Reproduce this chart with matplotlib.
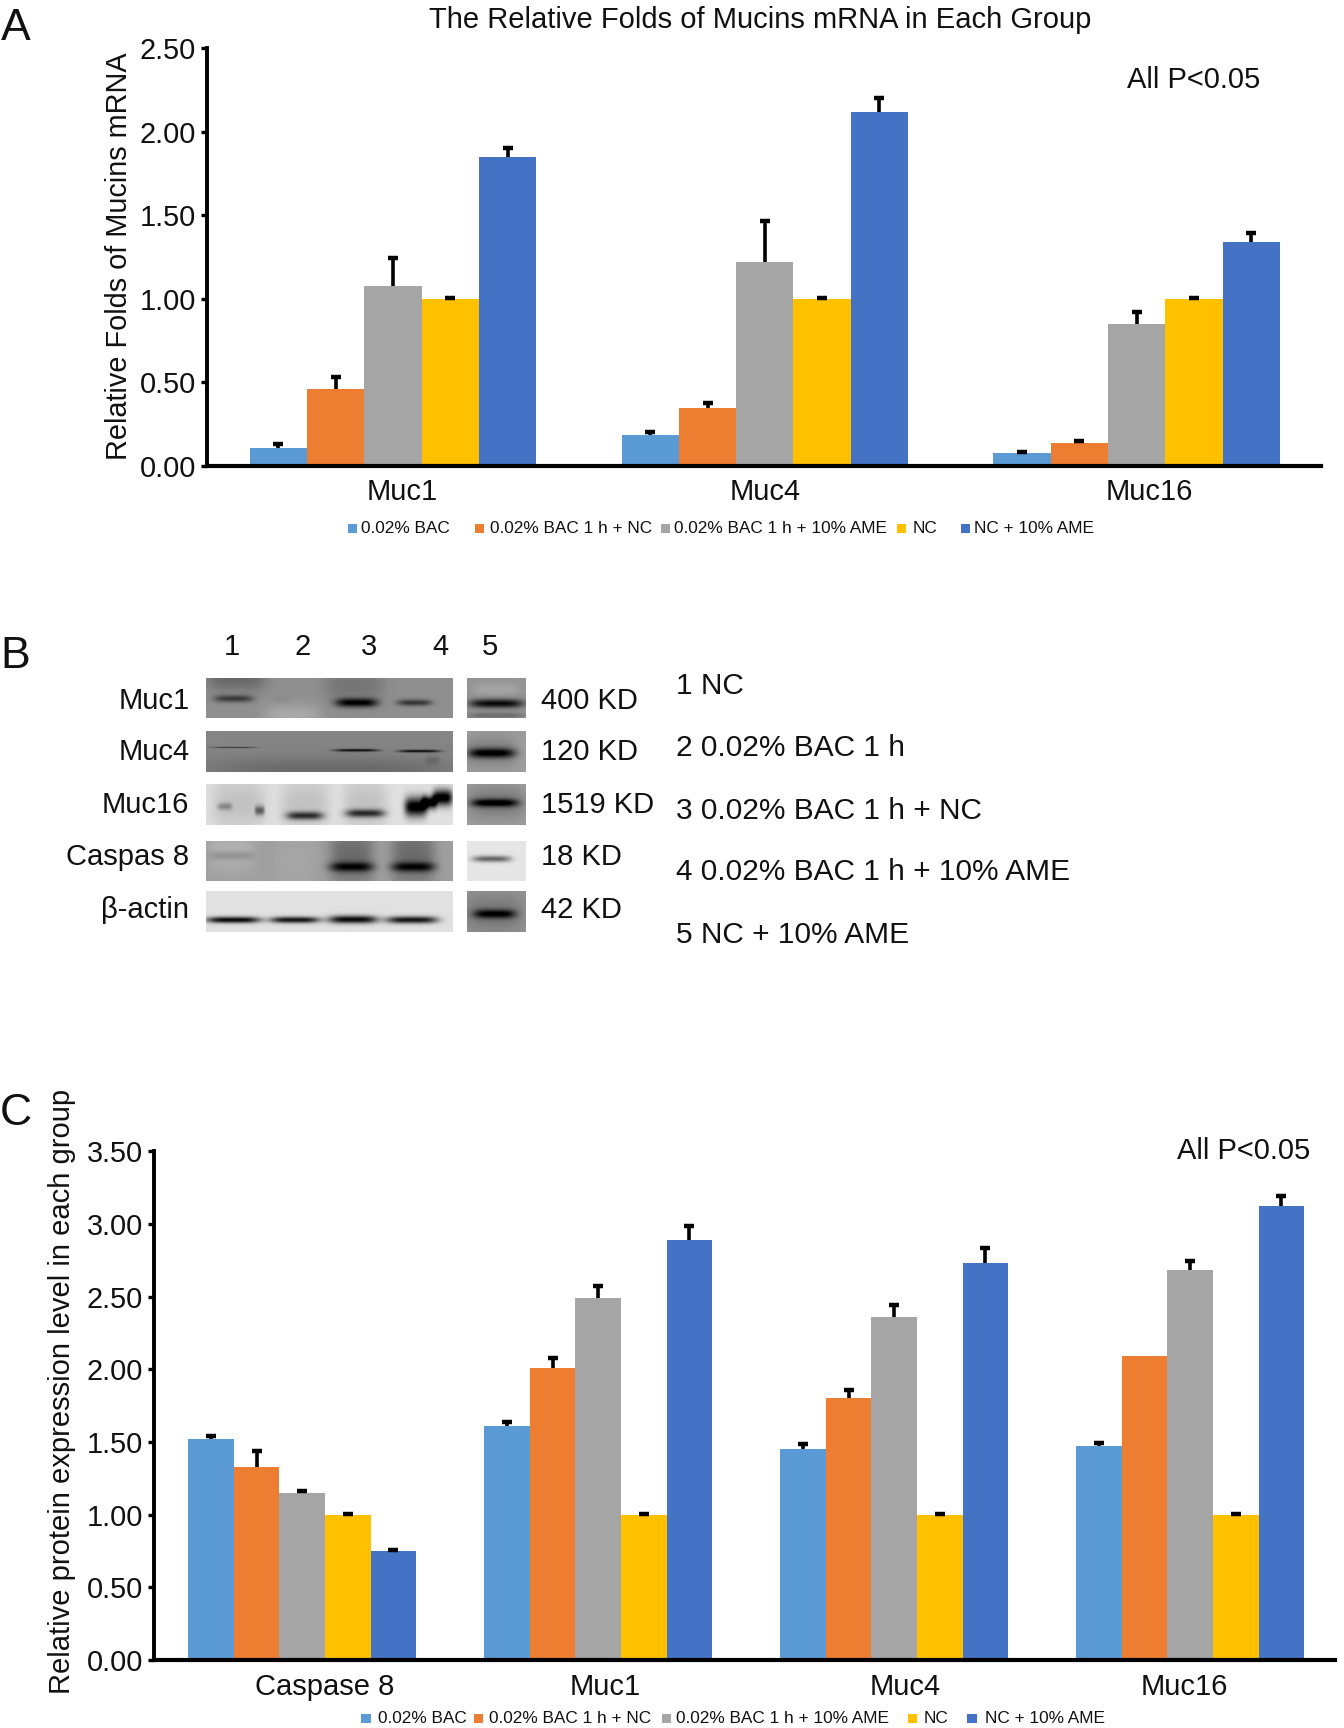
import numpy as np
import matplotlib
matplotlib.use("Agg")
import matplotlib.pyplot as plt
from matplotlib.patches import Rectangle

plt.rcParams['font.family'] = ['Liberation Sans', 'DejaVu Sans']

W, H = 1344, 1728
S = W / 1220  # positions below were read from the 1220 wide view

series = ["0.02% BAC", "0.02% BAC 1 h + NC", "0.02% BAC 1 h + 10% AME", "NC", "NC + 10% AME"]
colors = ["#5B9BD5", "#ED7D31", "#A5A5A5", "#FFC000", "#4472C4"]

groups_a = ["Muc1", "Muc4", "Muc16"]
vals_a = [[0.105, 0.185, 0.08],
          [0.46, 0.35, 0.14],
          [1.08, 1.22, 0.85],
          [1.00, 1.00, 1.00],
          [1.85, 2.12, 1.34]]
tops_a = [[0.13, 0.205, 0.085],
          [0.535, 0.38, 0.15],
          [1.245, 1.465, 0.92],
          [1.005, 1.005, 1.005],
          [1.905, 2.205, 1.395]]
ticks_a = [0.0, 0.5, 1.0, 1.5, 2.0, 2.5]

groups_c = ["Caspase 8", "Muc1", "Muc4", "Muc16"]
vals_c = [[1.52, 1.61, 1.45, 1.47],
          [1.33, 2.01, 1.80, 2.09],
          [1.15, 2.49, 2.36, 2.68],
          [1.00, 1.00, 1.00, 1.00],
          [0.75, 2.89, 2.73, 3.12]]
tops_c = [[1.545, 1.64, 1.485, 1.495],
          [1.435, 2.075, 1.855, 2.09],
          [1.16, 2.575, 2.445, 2.745],
          [1.005, 1.005, 1.005, 1.005],
          [0.755, 2.985, 2.835, 3.195]]
ticks_c = [0.0, 0.5, 1.0, 1.5, 2.0, 2.5, 3.0, 3.5]

blot_rows = ["Muc1", "Muc4", "Muc16", "Caspas 8", "β-actin"]
blot_sizes = ["400 KD", "120 KD", "1519 KD", "18 KD", "42 KD"]
blot_lanes = ["1", "2", "3", "4", "5"]
lane_key = ["1 NC", "2 0.02% BAC 1 h", "3 0.02% BAC 1 h + NC",
            "4 0.02% BAC 1 h + 10% AME", "5 NC + 10% AME"]
# grey level of the membrane behind each row, left block and lane 5 block
blot_bg = [0.56, 0.52, 0.88, 0.62, 0.88]
lane5_bg = [0.58, 0.62, 0.62, 0.90, 0.58]
# bands per row: centre x, centre y, half width, half height, darkness (fractions of block)
blot_bands = [
    [(0.12, 0.05, 0.12, 0.3, 0.15), (0.35, 0.95, 0.12, 0.3, -0.1), (0.60, 0.2, 0.12, 0.4, 0.1),
     (0.11, 0.53, 0.08, 0.09, 0.32), (0.30, 0.56, 0.04, 0.08, 0.03), (0.61, 0.63, 0.085, 0.11, 0.55), (0.845, 0.63, 0.07, 0.08, 0.35)],
    [(0.5, 0.95, 0.5, 0.3, 0.1), (0.11, 0.40, 0.09, 0.02, 0.25), (0.61, 0.47, 0.09, 0.035, 0.45), (0.865, 0.49, 0.085, 0.035, 0.45),
     (0.92, 0.72, 0.03, 0.1, 0.08)],
    [(0.13, 0.5, 0.11, 0.7, 0.12), (0.40, 0.5, 0.10, 0.7, 0.12), (0.645, 0.5, 0.09, 0.7, 0.12),
     (0.075, 0.55, 0.03, 0.09, 0.25), (0.217, 0.65, 0.02, 0.12, 0.45), (0.40, 0.78, 0.075, 0.10, 0.62), (0.645, 0.72, 0.08, 0.10, 0.62),
     (0.85, 0.56, 0.045, 0.24, 0.95), (0.96, 0.33, 0.04, 0.2, 0.95), (0.905, 0.45, 0.03, 0.16, 0.9)],
    [(0.1, 0.3, 0.1, 0.5, -0.08), (0.36, 0.5, 0.09, 0.7, -0.03), (0.59, 0.4, 0.09, 0.8, 0.2), (0.84, 0.4, 0.09, 0.8, 0.2),
     (0.10, 0.38, 0.09, 0.11, 0.12), (0.59, 0.66, 0.09, 0.12, 0.45), (0.84, 0.66, 0.09, 0.12, 0.45)],
    [(0.11, 0.71, 0.11, 0.08, 0.85), (0.36, 0.71, 0.10, 0.08, 0.8), (0.595, 0.70, 0.10, 0.10, 0.85), (0.835, 0.71, 0.105, 0.09, 0.8)],
]
lane5_bands = [
    [(0.5, 0.65, 0.46, 0.11, 0.55), (0.5, 0.3, 0.4, 0.15, -0.07), (0.5, 0.95, 0.5, 0.08, 0.15)],
    [(0.42, 0.54, 0.40, 0.12, 0.55), (0.4, 0.5, 0.45, 0.4, 0.12)],
    [(0.47, 0.46, 0.40, 0.10, 0.55), (0.5, 0.45, 0.5, 0.4, 0.15)],
    [(0.42, 0.46, 0.33, 0.08, 0.5)],
    [(0.47, 0.56, 0.36, 0.11, 0.5), (0.45, 0.55, 0.5, 0.45, 0.12)],
]


def blot_image(bg, bands, w, h):
    xx, yy = np.meshgrid(np.linspace(0, 1, w), np.linspace(0, 1, h))
    img = np.full((h, w), bg, dtype=float)
    for cx, cy, hw, hh, dark in bands:
        img -= dark * np.exp(-(np.abs(xx - cx) / hw) ** 4 - (np.abs(yy - cy) / hh) ** 2)
    return np.clip(img, 0, 1)


def add_axes_px(x0, y0, x1, y1):
    # x0, y0 top left in the 1220 wide view
    return fig.add_axes([x0 * S / W, 1 - y1 * S / H, (x1 - x0) * S / W, (y1 - y0) * S / H])


def label(x, y, s, size=21, ha="left", va="center", **kw):
    fig.text(x * S / W, 1 - y * S / H, s, fontsize=size, ha=ha, va=va, color="#111111", **kw)


def bar_panel(box, groups, vals, tops, ticks, ymax, spacing):
    ax = add_axes_px(*box)
    x = np.arange(len(groups))
    bw = 0.77 / 5
    for i in range(5):
        offs = x + (i - 2) * bw
        ax.bar(offs, vals[i], bw, color=colors[i], linewidth=0)
        err = np.array(tops[i]) - np.array(vals[i])
        keep = err > 0
        _, caps, _ = ax.errorbar(offs[keep], np.array(vals[i])[keep], yerr=[np.zeros(keep.sum()), err[keep]],
                                 fmt="none", ecolor="black", elinewidth=2.6, capsize=3.8, capthick=3.2)
        caps[0].set_visible(False)  # only the upper cap shows
    ax.set_xlim(-0.5, -0.5 + (box[2] - box[0]) / spacing)
    ax.set_ylim(0, ymax)
    ax.set_xticks([])
    ax.set_yticks(ticks)
    ax.set_yticklabels(["%.2f" % t for t in ticks])
    ax.tick_params(axis="y", length=4, width=2.4, labelsize=20.8, pad=4, labelcolor="#111111")
    for s in ["top", "right"]:
        ax.spines[s].set_visible(False)
    ax.spines["left"].set_linewidth(2.8)
    ax.spines["bottom"].set_linewidth(3.0)
    return ax


def legend_row(y, sq_x, txt_x, size=12.4):
    for sx, tx, name, col in zip(sq_x, txt_x, series, colors):
        fig.patches.append(Rectangle((sx * S / W, 1 - (y + 4) * S / H), 8.5 * S / W, 8.5 * S / H,
                                     transform=fig.transFigure, color=col, linewidth=0))
        label(tx, y, name, size=size)


fig = plt.figure(figsize=(W / 100, H / 100), dpi=100, facecolor="white")

# panel A
bar_panel((188, 44, 1199, 423), groups_a, vals_a, tops_a, ticks_a, 2.5, 337.5)
for lx, g in zip([365, 695, 1043], groups_a):
    label(lx, 447, g, ha="center")
label(690, 18, "The Relative Folds of Mucins mRNA in Each Group", ha="center")
label(108, 233, "Relative Folds of Mucins mRNA", size=20.8, ha="center", rotation=90)
label(1023, 73, "All P<0.05")
legend_row(480, [316, 431, 600, 814, 872], [328, 445, 612, 828, 884])

# panel B
for r in range(5):
    y0 = [615, 664, 712, 763, 809][r]
    y1 = y0 + 37
    ax = add_axes_px(187, y0, 411, y1)
    ax.imshow(blot_image(blot_bg[r], blot_bands[r], 246, 41), cmap="gray", vmin=0, vmax=1, aspect="auto")
    ax.axis("off")
    ax = add_axes_px(424, y0, 477, y1)
    ax.imshow(blot_image(lane5_bg[r], lane5_bands[r], 58, 41), cmap="gray", vmin=0, vmax=1, aspect="auto")
    ax.axis("off")
    ymid = [636, 683, 731, 778, 826][r]
    label(172, ymid, blot_rows[r], ha="right")
    label(491, ymid, blot_sizes[r])
    label(614, [623, 679, 736, 792, 849][r], lane_key[r], size=21.5)
for lx, t in zip([210, 275, 335, 400, 445], blot_lanes):
    label(lx, 587, t, ha="center")

# panel C
bar_panel((140, 1045, 1212, 1507), groups_c, vals_c, tops_c, ticks_c, 3.5, 268.7)
for lx, g in zip([295, 549, 822, 1075], groups_c):
    label(lx, 1531, g, ha="center")
label(56, 1263, "Relative protein expression level in each group", ha="center", rotation=90)
label(1068, 1045, "All P<0.05")
legend_row(1560, [328, 430, 601, 824, 878], [343, 444, 614, 838, 894])

# panel letters
label(14, 26, "A", size=32, ha="center")
label(14, 596, "B", size=32, ha="center")
label(14, 1011, "C", size=32, ha="center")

fig.savefig("out.png", dpi=100)
